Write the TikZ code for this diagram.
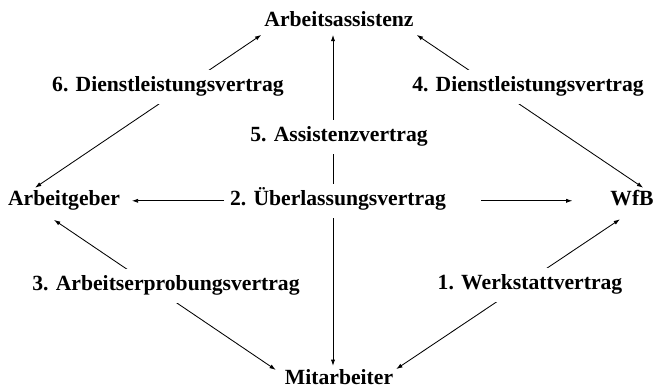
\documentclass[tikz,border=0pt]{standalone}
\usepackage{fontspec}
\setmainfont{Liberation Serif}
\usetikzlibrary{arrows.meta}

\begin{document}
\begin{tikzpicture}[
  party/.style={font=\fontsize{15.4}{18}\selectfont\bfseries, anchor=base, inner sep=2pt, text height=10.8pt, text depth=3.4pt},
  contract/.style={party, fill=white, inner xsep=4pt, inner ysep=5pt},
  link/.style={line width=0.6pt, {Latex[length=4.5pt,width=3pt]}-{Latex[length=4.5pt,width=3pt]}},
  halflink/.style={line width=0.6pt, -{Latex[length=4.5pt,width=3pt]}}]
\useasboundingbox (0,0) rectangle (16.45,9.675);
% the four parties
\node[party] (assist) at (8.475,9.0) {Arbeitsassistenz};
\node[party] (arbgeb) at (1.6,4.525) {Arbeitgeber};
\node[party] (wfb) at (15.8,4.525) {WfB};
\node[party] (mitarb) at (8.475,0.07) {Mitarbeiter};
% contracts between them (labels sit on top of the lines)
\draw[link] ([xshift=-0.15cm]mitarb.north) -- ([xshift=-0.15cm]assist.south);
\draw[link] ([xshift=0.75cm]arbgeb.north west) -- (assist.south west);
\draw[link] (assist.south east) -- ([xshift=0.28cm]wfb.north);
\draw[link] ([shift={(-0.25,-0.15)}]arbgeb.south) -- ([shift={(-0.15,-0.1)}]mitarb.north west);
\draw[link] ([shift={(-0.3,-0.135)}]wfb.south) -- ([yshift=-0.08cm]mitarb.north east);
\node[contract] (vert6) at (4.2,7.375) {6. Dienstleistungsvertrag};
\node[contract] (vert4) at (13.2,7.375) {4. Dienstleistungsvertrag};
\node[contract] (vert5) at (8.475,6.125) {5. Assistenzvertrag};
\node[contract] (vert2) at (8.45,4.525) {2. Überlassungsvertrag};
\node[contract] (vert3) at (4.15,2.4) {3. Arbeitserprobungsvertrag};
\node[contract] (vert1) at (13.25,2.425) {1. Werkstattvertrag};
% overlending contract: split in two arrows
\draw[halflink, shorten >=0.22cm] (vert2.west) -- (arbgeb.east);
\draw[halflink, shorten <=0.74cm, shorten >=0.87cm] (vert2.east) -- (wfb.west);
\end{tikzpicture}
\end{document}
